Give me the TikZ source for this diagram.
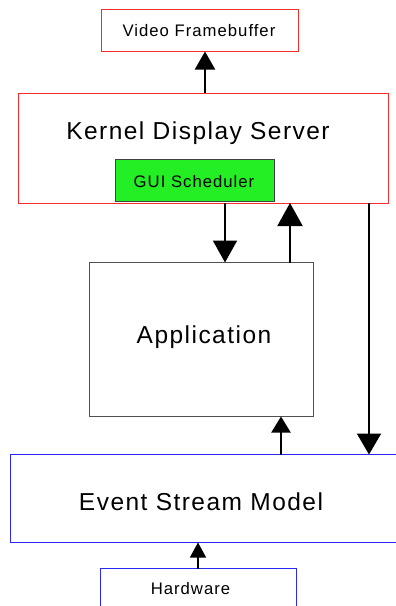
\documentclass[tikz,border=0pt]{standalone}
\usepackage{fontspec}
\setmainfont{Liberation Sans}[LetterSpace=6]
\usetikzlibrary{arrows.meta}

\definecolor{boxred}{RGB}{245,45,45}
\definecolor{boxblue}{RGB}{40,40,245}
\definecolor{schedgreen}{RGB}{36,238,36}
\definecolor{appgray}{RGB}{80,80,80}

\tikzset{
  box/.style={draw, line width=1pt, rectangle, inner sep=0pt, outer sep=0pt, anchor=north west},
  redbox/.style={box, draw=boxred},
  bluebox/.style={box, draw=boxblue},
  bigtext/.style={anchor=base, inner sep=0pt, font=\fontsize{24.5}{29}\selectfont},
  smalltext/.style={anchor=base, inner sep=0pt, font=\fontsize{16.7}{20}\selectfont},
  bigarrow/.style={line width=2pt, -{Triangle[length=#1pt,width=24pt]}},
  bigarrow/.default=21,
}

\begin{document}
\begin{tikzpicture}[x=1pt, y=-1pt]
  \useasboundingbox (0,0) rectangle (396,606);
  \clip (0,0) rectangle (396,606);

  % boxes
  \node[redbox, minimum width=197pt, minimum height=42pt] (vf) at (101,9.5) {};
  \node[redbox, minimum width=370pt, minimum height=110pt] (kds) at (18,93) {};
  \node[box, draw=appgray!80!black, fill=schedgreen, minimum width=159pt, minimum height=42pt] (gui) at (115.5,159) {};
  \node[box, draw=appgray, minimum width=224pt, minimum height=154pt] (app) at (89,262.5) {};
  \node[bluebox, minimum width=400pt, minimum height=88pt] (esm) at (10,454.5) {};
  \node[bluebox, minimum width=196pt, minimum height=60pt] (hw) at (100,568.5) {};

  % labels
  \node[smalltext] (vftext) at (199,36.7) {Video Framebuffer};
  \node[bigtext] (kdstext) at (198,139.3) {Kernel Display Server};
  \node[smalltext] (guitext) at (194,187.3) {GUI Scheduler};
  \node[bigtext] (apptext) at (204,343.3) {Application};
  \node[bigtext] (esmtext) at (201,510) {Event Stream Model};
  \node[smalltext] (hwtext) at (190.5,594) {Hardware};

  % connectors
  \draw[line width=2pt, -{Triangle[length=18pt,width=20pt]}] (205,0 |- kds.north) -- (205,0 |- vf.south);
  \draw[bigarrow=22] (225,0 |- kds.south) -- (225,0 |- app.north);
  \draw[line width=2pt, -{Triangle[length=23pt,width=25pt]}] (290,0 |- app.north) -- (290,0 |- kds.south);
  \draw[bigarrow=21] (369,0 |- kds.south) -- (369,0 |- esm.north);
  \draw[line width=2pt, -{Triangle[length=16pt,width=19pt]}] (281,0 |- esm.north) -- (281,0 |- app.south);
  \draw[line width=1.4pt, -{Triangle[length=15pt,width=16pt]}] (198,0 |- hw.north) -- (198,0 |- esm.south);
\end{tikzpicture}
\end{document}
